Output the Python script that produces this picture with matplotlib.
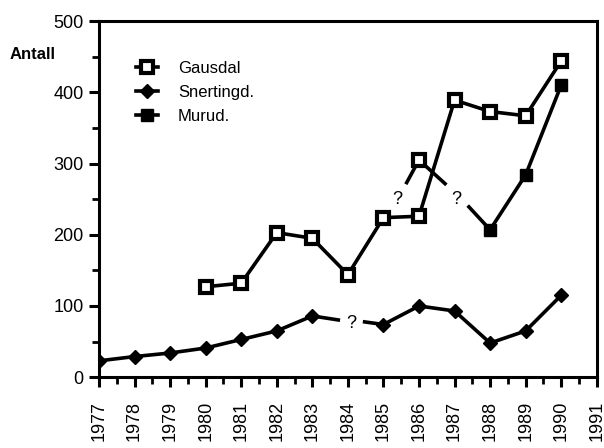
import matplotlib
matplotlib.use('Agg')
import matplotlib.pyplot as plt
from matplotlib.ticker import MultipleLocator

plt.rcParams['font.family'] = ['Liberation Sans', 'DejaVu Sans']

# data
years = list(range(1977, 1992))

gausdal_years = [1980, 1981, 1982, 1983, 1984, 1985, 1986, 1987, 1988, 1989, 1990]
gausdal = [127, 132, 203, 195, 144, 224, 226, 389, 373, 367, 444]

snert_years_a = [1977, 1978, 1979, 1980, 1981, 1982, 1983]
snert_a = [23, 29, 34, 41, 53, 65, 86]
snert_years_b = [1985, 1986, 1987, 1988, 1989, 1990]
snert_b = [74, 100, 93, 48, 65, 115]

murud_years_a = [1986]
murud_a = [305]
murud_years_b = [1988, 1989, 1990]
murud_b = [207, 284, 410]

# unfinished line pieces next to the missing values
stubs = [
    ([1983, 1983.78], [86, 80]),
    ([1984.42, 1985], [78, 74]),
    ([1985.63, 1986, 1986.77], [271, 305, 270]),
    ([1987.37, 1988], [241, 207]),
]
question_marks = [(1984.1, 76), (1985.38, 249), (1987.06, 249)]

fig = plt.figure(figsize=(6.04, 4.48), dpi=100)
ax = fig.add_axes([0.164, 0.158, 0.824, 0.795])

lw = 2.6
sq = dict(marker='s', ms=8, mfc='white', mec='black', mew=3)
for xs, ys in stubs:
    ax.plot(xs, ys, color='black', lw=lw, solid_capstyle='butt')

ax.plot(gausdal_years, gausdal, color='black', lw=lw, label='Gausdal', zorder=3, **sq)
ax.plot(snert_years_a, snert_a, color='black', lw=lw, marker='D', ms=7,
        mfc='black', mec='black', label='Snertingd.', zorder=3)
ax.plot(snert_years_b, snert_b, color='black', lw=lw, marker='D', ms=7,
        mfc='black', mec='black', zorder=3)
ax.plot(murud_years_a, murud_a, color='black', lw=lw, zorder=3, **sq)
ax.plot(murud_years_b, murud_b, color='black', lw=lw, marker='s', ms=8,
        mfc='black', mec='black', label='Murud.', zorder=3)

for qx, qy in question_marks:
    ax.text(qx, qy, '?', fontsize=13, ha='center', va='center')

ax.set_xlim(1977, 1991)
ax.set_ylim(0, 500)
ax.set_xticks(years)
ax.set_xticklabels([str(y) for y in years], rotation=90, fontsize=13)
ax.xaxis.set_minor_locator(MultipleLocator(0.5))
ax.yaxis.set_major_locator(MultipleLocator(100))
ax.yaxis.set_minor_locator(MultipleLocator(50))
ax.tick_params(axis='both', which='major', direction='out', length=7, width=2.2,
               labelsize=13)
ax.tick_params(axis='x', which='major', pad=10)
ax.tick_params(axis='y', which='major', pad=4)
ax.tick_params(axis='both', which='minor', direction='out', length=5, width=2)
for s in ax.spines.values():
    s.set_linewidth(2.2)

ax.text(-0.179, 0.905, 'Antall', transform=ax.transAxes, fontsize=12,
        fontweight='bold', ha='left', va='center')

ax.legend(loc='upper left', bbox_to_anchor=(0.045, 0.93), frameon=False,
          fontsize=12, handlelength=1.3, handletextpad=1.2, labelspacing=0.55)

fig.savefig('out.png', dpi=100)
